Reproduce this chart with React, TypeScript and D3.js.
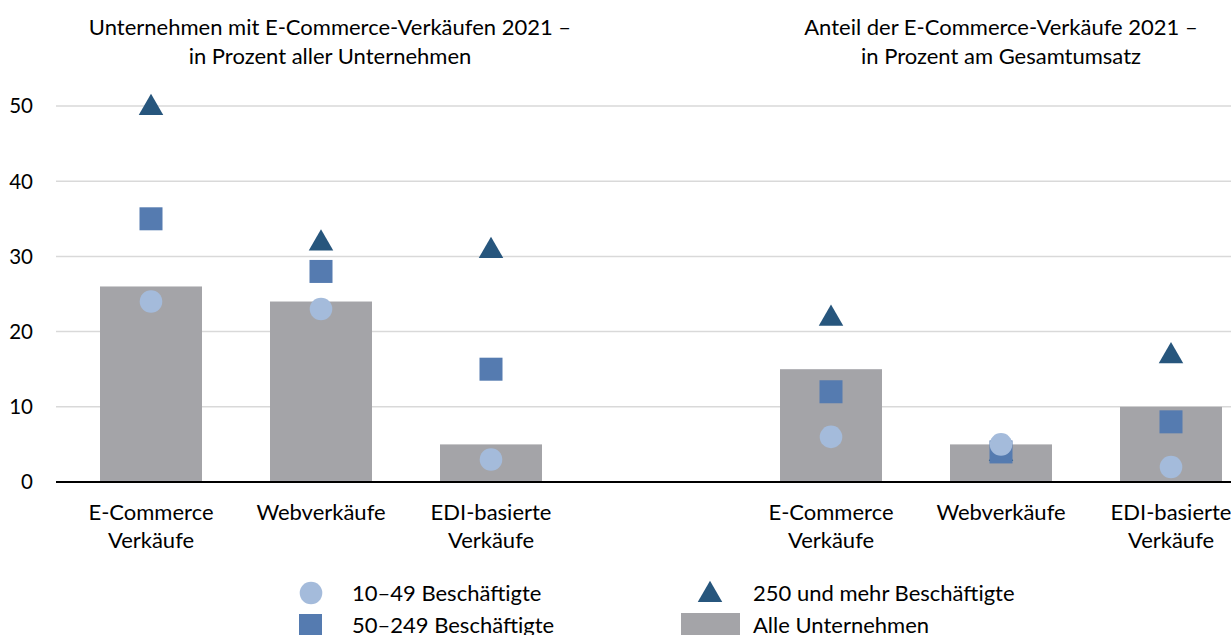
import * as d3 from "d3";
import React, { useRef, useEffect } from "react";

// slots: 3 left categories, an empty gap, 3 right categories
const slots = ["ec1", "web1", "edi1", "gap", "ec2", "web2", "edi2"];
const catLabels = [
  ["E-Commerce", "Verkäufe"],
  ["Webverkäufe"],
  ["EDI-basierte", "Verkäufe"],
  [],
  ["E-Commerce", "Verkäufe"],
  ["Webverkäufe"],
  ["EDI-basierte", "Verkäufe"],
];
const catKeys = ["ec1", "web1", "edi1", "ec2", "web2", "edi2"];
const allCompanies = [26, 24, 5, 15, 5, 10];
const small = [24, 23, 3, 6, 5, 2];
const medium = [35, 28, 15, 12, 4, 8];
const large = [50, 32, 31, 22, 4, 17];
const yTicks = [0, 10, 20, 30, 40, 50];

const titleLeft = ["Unternehmen mit E-Commerce-Verkäufen 2021 –", "in Prozent aller Unternehmen"];
const titleRight = ["Anteil der E-Commerce-Verkäufe 2021 –", "in Prozent am Gesamtumsatz"];

const W = 1231;
const H = 635;
const FONT = "Lato, sans-serif";
const FS = 22;
const C_BAR = "#a4a4a8";
const C_SMALL = "#a4bbdb";
const C_MED = "#557bb0";
const C_LARGE = "#27567d";

function Chart() {
  const ref = useRef<any>();
  useEffect(() => {
    const svg = d3.select(ref.current);
    svg.selectAll("*").remove();

    const x = d3.scaleBand().domain(slots).range([66, 1256]).paddingInner(0.4).paddingOuter(0.2);
    const y = d3.scaleLinear().domain([0, 50]).range([482, 106]);
    const cx = (k: string) => (x(k) as number) + x.bandwidth() / 2;

    // grid
    svg.append("g")
      .selectAll("line")
      .data(yTicks.filter((t) => t > 0))
      .enter()
      .append("line")
      .attr("x1", 56)
      .attr("x2", W)
      .attr("y1", (d: any) => y(d))
      .attr("y2", (d: any) => y(d))
      .attr("stroke", "#d9d9d9")
      .attr("stroke-width", 1.5);

    // y labels
    svg.append("g")
      .selectAll("text")
      .data(yTicks)
      .enter()
      .append("text")
      .attr("x", 33)
      .attr("y", (d: any) => y(d))
      .attr("dy", "0.36em")
      .attr("text-anchor", "end")
      .attr("font-family", FONT)
      .attr("font-size", 20.5)
      .attr("fill", "#000")
      .text((d: any) => d);

    // bars
    svg.append("g")
      .selectAll("rect")
      .data(catKeys)
      .enter()
      .append("rect")
      .attr("x", (d: any) => x(d) as number)
      .attr("width", x.bandwidth())
      .attr("y", (d: any, i: number) => y(allCompanies[i]))
      .attr("height", (d: any, i: number) => y(0) - y(allCompanies[i]))
      .attr("fill", C_BAR);

    // axis line
    svg.append("line")
      .attr("x1", 56)
      .attr("x2", W)
      .attr("y1", y(0))
      .attr("y2", y(0))
      .attr("stroke", "#000")
      .attr("stroke-width", 2);

    // triangles, then squares, then circles
    const tri = d3.symbol().type(d3.symbolTriangle).size(260);
    svg.append("g")
      .selectAll("path")
      .data(catKeys)
      .enter()
      .append("path")
      .attr("d", tri as any)
      .attr("transform", (d: any, i: number) => `translate(${cx(d)},${y(large[i]) + 2})`)
      .attr("fill", C_LARGE);

    svg.append("g")
      .selectAll("rect")
      .data(catKeys)
      .enter()
      .append("rect")
      .attr("x", (d: any) => cx(d) - 11.5)
      .attr("y", (d: any, i: number) => y(medium[i]) - 11.5)
      .attr("width", 23)
      .attr("height", 23)
      .attr("fill", C_MED);

    svg.append("g")
      .selectAll("circle")
      .data(catKeys)
      .enter()
      .append("circle")
      .attr("cx", (d: any) => cx(d))
      .attr("cy", (d: any, i: number) => y(small[i]))
      .attr("r", 11.3)
      .attr("fill", C_SMALL);

    // category labels
    const lab = svg.append("g")
      .selectAll("text")
      .data(slots)
      .enter()
      .append("text")
      .attr("text-anchor", "middle")
      .attr("font-family", FONT)
      .attr("font-size", FS)
      .attr("fill", "#000");
    lab.each(function (this: any, d: any, i: number) {
      const t = d3.select(this);
      catLabels[i].forEach((s, j) => {
        t.append("tspan")
          .attr("x", cx(d))
          .attr("y", 520 + j * 28)
          .text(s);
      });
    });

    // titles
    const drawTitle = (lines: string[], tx: number) => {
      lines.forEach((s, j) => {
        svg.append("text")
          .attr("x", tx)
          .attr("y", 35 + j * 28.5)
          .attr("text-anchor", "middle")
          .attr("font-family", FONT)
          .attr("font-size", FS)
          .attr("fill", "#000")
          .text(s);
      });
    };
    drawTitle(titleLeft, cx("web1") + 9);
    drawTitle(titleRight, cx("web2"));

    // legend
    const lg = svg.append("g").attr("font-family", FONT).attr("font-size", FS);
    lg.append("circle").attr("cx", 311).attr("cy", 593).attr("r", 11.3).attr("fill", C_SMALL);
    lg.append("text").attr("x", 352).attr("y", 600.5).text("10–49 Beschäftigte");
    lg.append("rect").attr("x", 299).attr("y", 614).attr("width", 23).attr("height", 23).attr("fill", C_MED);
    lg.append("text").attr("x", 352).attr("y", 633).text("50–249 Beschäftigte");
    lg.append("path")
      .attr("d", tri as any)
      .attr("transform", "translate(710,595)")
      .attr("fill", C_LARGE);
    lg.append("text").attr("x", 753).attr("y", 600.5).text("250 und mehr Beschäftigte");
    lg.append("rect").attr("x", 681).attr("y", 613).attr("width", 59).attr("height", 24).attr("fill", C_BAR);
    lg.append("text").attr("x", 753).attr("y", 633).text("Alle Unternehmen");
  }, []);

  return <svg ref={ref} width={W} height={H} style={{ display: "block" }}></svg>;
}

export default function App() {
  return (
    <div style={{ position: "absolute", left: 0, top: 0, background: "#fff" }}>
      <Chart />
    </div>
  );
}
